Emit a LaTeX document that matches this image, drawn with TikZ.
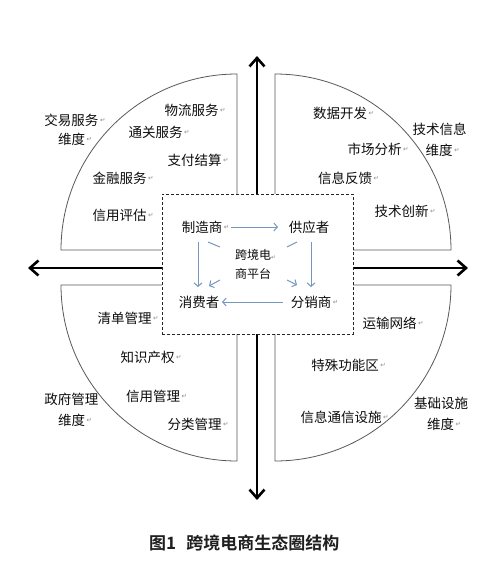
\documentclass[tikz,border=0pt]{standalone}
\usepackage{fontspec}
\setmainfont{Noto Sans CJK SC}[BoldFont={Noto Sans CJK SC Bold}]
\newfontfamily\dejavu{DejaVu Sans}
\usetikzlibrary{arrows.meta}
\definecolor{bluel}{RGB}{118,150,192}
\newcommand{\retsym}{\dejavu ↵}
\begin{document}
\begin{tikzpicture}[x=1pt,y=-1pt,
  txt/.style={font=\fontsize{13.5}{16}\selectfont, text=black!95, inner sep=1pt},
  small/.style={font=\fontsize{12}{19}\selectfont, text=black!95, inner sep=1pt, align=left},
  rmk/.style={inner sep=0.3pt, text=black!45, font=\fontsize{6.5}{7}\selectfont},
  rm/.style={label={[rmk]east:\retsym}},
  quad/.style={draw=black!65, line width=0.8pt},
  axis/.style={line width=2.6pt, black, {Straight Barb[length=8.5pt,width=15pt]}-{Straight Barb[length=8.5pt,width=15pt]}},
  dbox/.style={draw=black!85, dash pattern=on 3pt off 2pt, line width=0.8pt, fill=white, minimum width=191pt, minimum height=140pt, inner sep=0pt},
  barrow/.style={draw=bluel, line width=1pt, -{Straight Barb[length=3.5pt,width=8pt]}},
  bline/.style={draw=bluel, line width=1pt}
]
\useasboundingbox[fill=white] (0,0) rectangle (500,582);

% axes
\coordinate (axT) at (257,56);
\coordinate (axB) at (257,500);
\coordinate (axL) at (28,268);
\coordinate (axR) at (468,268);
\draw[axis] (axB) -- (axT);
\draw[axis] (axL) -- (axR);

% quadrants
\draw[quad] (162,250) -- (61,250) arc[start angle=180,end angle=270,radius=176] -- (237,194);
\draw[quad] (353,250) -- (451,250) arc[start angle=0,end angle=-90,radius=176] -- (275,194);
\draw[quad] (162,285) -- (61,285) arc[start angle=180,end angle=90,radius=176] -- (237,334);
\draw[quad] (353,285) -- (451,285) arc[start angle=0,end angle=90,radius=176] -- (275,334);

% central box
\node[dbox] (box) at (257.5,264) {};

% top-left
\node[txt,rm] (wl) at (191.5,110) {物流服务};
\node[txt,rm] (tg) at (155.5,132) {通关服务};
\node[txt,rm] (jy) at (71.5,120) {交易服务};
\node[txt,rm] (jyd) at (71.5,139) {维度};
\node[txt,rm] (zf) at (194.5,160) {支付结算};
\node[txt,rm] (jr) at (119.5,178) {金融服务};
\node[txt,rm] (xy) at (119.5,215) {信用评估};

% top-right
\node[txt,rm] (sj) at (340,113) {数据开发};
\node[txt] (js) at (439.5,129) {技术信息};
\node[txt,rm] (jsd) at (439,150) {维度};
\node[txt,rm] (sc) at (374.5,149) {市场分析};
\node[txt,rm] (fk) at (345,178) {信息反馈};
\node[txt,rm] (cx) at (401.5,211) {技术创新};

% bottom-left
\node[txt,rm] (qd) at (124.5,318) {清单管理};
\node[txt,rm] (zs) at (147.5,357) {知识产权};
\node[txt] (zfg) at (71.5,399) {政府管理};
\node[txt,rm] (zfd) at (71.5,420) {维度};
\node[txt,rm] (xg) at (153,396) {信用管理};
\node[txt,rm] (fl) at (194.5,424) {分类管理};

% bottom-right
\node[txt,rm] (ys) at (389.5,323) {运输网络};
\node[txt,rm] (ts) at (345,365) {特殊功能区};
\node[txt,rm] (xx) at (341,417) {信息通信设施};
\node[txt] (jc) at (441,403) {基础设施};
\node[txt,rm] (jcd) at (440.5,424) {维度};

% center actors
\node[txt,rm] (mfr) at (202,227) {制造商};
\node[txt] (sup) at (309,227) {供应者};
\node[txt] (con) at (199,302) {消费者};
\node[txt,rm] (dis) at (311,302) {分销商};
\node[small,anchor=west] (plat) at (234,264.5) {跨境电{\color{black!45}\fontsize{6}{7}\selectfont\retsym}\\商平台};

% connectors
\draw[barrow] ([shift={(29,0)}]mfr.center) -- ([shift={(-31,0)}]sup.center);
\draw[barrow] ([shift={(2,15)}]sup.center) -- ([shift={(0,-15)}]dis.center);
\draw[barrow] ([shift={(-4,15)}]mfr.center) -- ([shift={(-1,-15)}]con.center);
\draw[barrow] ([shift={(-28,0)}]dis.center) -- ([shift={(23,0)}]con.center);
\draw[bline] ([shift={(6,15)}]mfr.center) -- ([shift={(18,20)}]mfr.center);
\draw[bline] ([shift={(-12,15)}]sup.center) -- ([shift={(-22,20)}]sup.center);
\draw[barrow] ([shift={(21,-22)}]con.center) -- ([shift={(10,-16)}]con.center);
\draw[barrow] ([shift={(-24,-22)}]dis.center) -- ([shift={(-14,-17)}]dis.center);

% caption
\node[anchor=west, font=\fontsize{17}{17}\selectfont\bfseries, text=black!88, inner sep=0pt] (cap) at (149,543) {图1\hspace{0.6em}跨境电商生态圈结构};
\end{tikzpicture}
\end{document}
